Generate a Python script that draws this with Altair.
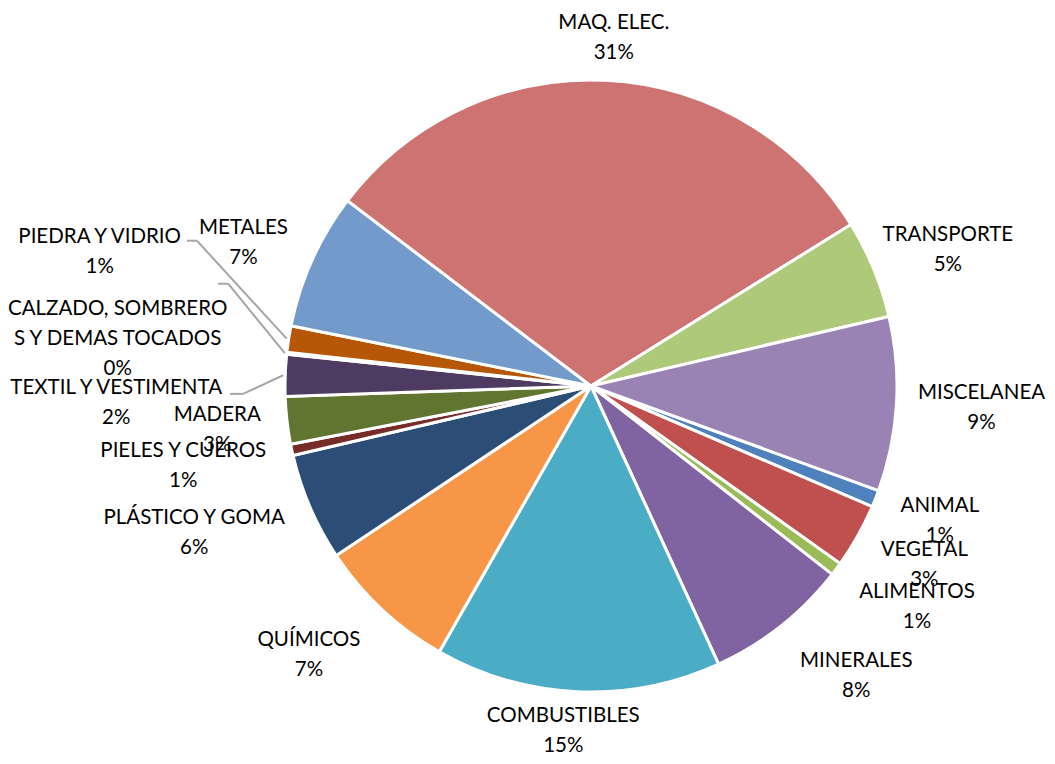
import math
import altair as alt
import pandas as pd

# ---- data ----
categories = ["ANIMAL", "VEGETAL", "ALIMENTOS", "MINERALES", "COMBUSTIBLES", "QUÍMICOS",
              "PLÁSTICO Y GOMA", "PIELES Y CUEROS", "MADERA", "TEXTIL Y VESTIMENTA",
              "CALZADO, SOMBREROS Y DEMAS TOCADOS", "PIEDRA Y VIDRIO", "METALES",
              "MAQ. ELEC.", "TRANSPORTE", "MISCELANEA"]
shares = [0.9, 3.4, 0.7, 7.6, 15.1, 7.4, 5.7, 0.6, 2.5, 2.2, 0.1, 1.4, 7.2, 30.8, 5.2, 9.2]
pct_labels = ["1%", "3%", "1%", "8%", "15%", "7%", "6%", "1%", "3%", "2%", "0%", "1%",
              "7%", "31%", "5%", "9%"]
name_labels = ["ANIMAL", "VEGETAL", "ALIMENTOS", "MINERALES", "COMBUSTIBLES", "QUÍMICOS",
               "PLÁSTICO Y GOMA", "PIELES Y CUEROS", "MADERA", "TEXTIL Y VESTIMENTA",
               "CALZADO, SOMBRERO\nS Y DEMAS TOCADOS", "PIEDRA Y VIDRIO", "METALES",
               "MAQ. ELEC.", "TRANSPORTE", "MISCELANEA"]

# ---- style / layout ----
colors = ["#4F81BD", "#C0504D", "#9BBB59", "#8064A2", "#4BACC6", "#F79646",
          "#2C4D75", "#772C2A", "#5F7530", "#4D3B62", "#276A7C", "#B65708",
          "#729ACA", "#CD7371", "#AFC97A", "#9983B5"]
label_radius = [373, 377, 392, 391, 343, 388, 422, 415, 376, 475, 476, 510, 377, 352, 383, 391]
label_shift_deg = [-0.9, -1.5, -3.0, -4.4, 2.1, 3.6, 3.5, 1.3, 0.2, -3.7, -0.1, 6.7, -1.5, 1.0, 1.2, -0.6]
# leader lines: elbow radius, elbow angle shift (deg), tail length (px)
leader_r = {"TEXTIL Y VESTIMENTA": 348, "CALZADO, SOMBREROS Y DEMAS TOCADOS": 377, "PIEDRA Y VIDRIO": 420}
leader_shift = {"TEXTIL Y VESTIMENTA": -3.3, "CALZADO, SOMBREROS Y DEMAS TOCADOS": 9.6, "PIEDRA Y VIDRIO": 11.4}
leader_tail = {"TEXTIL Y VESTIMENTA": 13, "CALZADO, SOMBREROS Y DEMAS TOCADOS": 10, "PIEDRA Y VIDRIO": 10}

START_DEG = 110.0
CX, CY = 583, 378
R = 306
FONT = "Lato"
FS = 20.5
LH = 30

labels_full = [n + "\n" + p for n, p in zip(name_labels, pct_labels)]
df = pd.DataFrame({
    "idx": list(range(len(categories))),
    "cat": categories,
    "share": shares,
    "label": labels_full,
    "nlines": [t.count("\n") + 1 for t in labels_full],
    "lrad": label_radius,
    "lshift": label_shift_deg,
    "er": [leader_r.get(c, -1) for c in categories],
    "eshift": [leader_shift.get(c, 0) for c in categories],
    "tail": [leader_tail.get(c, 0) for c in categories],
})
total = sum(shares)
s0 = math.radians(START_DEG)

base = alt.Chart(df)

pie = base.mark_arc(outerRadius=R, stroke="white", strokeWidth=3).encode(
    theta=alt.Theta("share:Q", stack=True,
                    scale=alt.Scale(domain=[0, total], range=[s0, s0 + 2 * math.pi], nice=False)),
    color=alt.Color("cat:N", scale=alt.Scale(domain=categories, range=colors), legend=None),
    order=alt.Order("idx:Q"),
    x=alt.value(CX),
    y=alt.value(CY),
)

with_mid = base.transform_window(
    cum="sum(share)", sort=[alt.SortField("idx")]
).transform_calculate(
    mid_deg=f"{START_DEG} + 360*(datum.cum - datum.share/2)/{total}"
)


def label_layer(n):
    return with_mid.transform_filter(f"datum.nlines == {n}").transform_calculate(
        lang="(datum.mid_deg + datum.lshift)*PI/180"
    ).mark_text(font=FONT, fontSize=FS, lineBreak="\n", lineHeight=LH,
                align="center", baseline="middle", color="#000000",
                dy=3 - (n - 1) * LH / 2).encode(
        theta=alt.Theta("lang:Q", scale=None, stack=False),
        radius=alt.Radius("lrad:Q", scale=None),
        text="label:N",
        x=alt.value(CX),
        y=alt.value(CY),
    )


leaders = with_mid.transform_filter("datum.er > 0").transform_calculate(
    ea="(datum.mid_deg + datum.eshift)*PI/180",
    ma="datum.mid_deg*PI/180",
).transform_calculate(
    ex=f"{CX} + datum.er*sin(datum.ea)",
    ey=f"{CY} - datum.er*cos(datum.ea)",
    px=f"{CX} + {R + 2}*sin(datum.ma)",
    py=f"{CY} - {R + 2}*cos(datum.ma)",
).transform_calculate(
    tx="datum.ex - datum.tail"
)

diag = leaders.mark_rule(color="#A6A6A6", strokeWidth=2).encode(
    x=alt.X("ex:Q", scale=None, axis=None),
    y=alt.Y("ey:Q", scale=None, axis=None),
    x2="px:Q",
    y2="py:Q",
)
tail = leaders.mark_rule(color="#A6A6A6", strokeWidth=2).encode(
    x=alt.X("tx:Q", scale=None, axis=None),
    y=alt.Y("ey:Q", scale=None, axis=None),
    x2="ex:Q",
    y2="ey:Q",
)

chart = alt.layer(pie, diag, tail, label_layer(2), label_layer(3)).resolve_scale(
    theta="independent", radius="independent"
).properties(
    width=1039, height=748, autosize="none", padding=0
).configure_view(strokeWidth=0)

chart.save("out.html", embed_options={"renderer": "svg", "actions": False})
